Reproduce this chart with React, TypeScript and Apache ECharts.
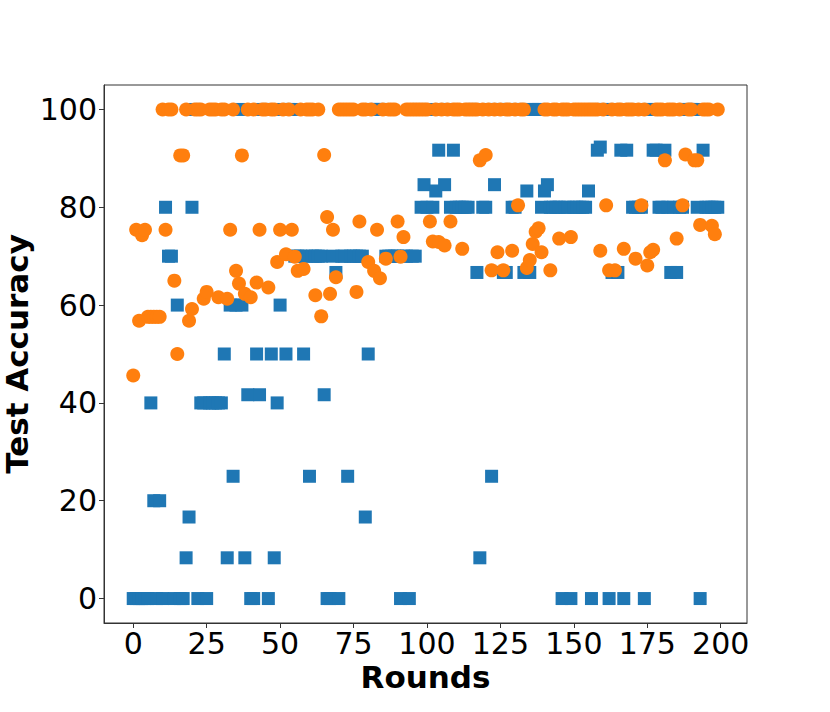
import React, { useEffect, useRef } from "react";
import * as echarts from "echarts";

const xTicks = [0, 25, 50, 75, 100, 125, 150, 175, 200];
const yTicks = [0, 20, 40, 60, 80, 100];

// Test accuracy per round (index = round 0..199)
const blueAcc = [
  0, 0, 0, 0, 0, 0, 40, 20, 0, 20,
  0, 80, 70, 70, 0, 60, 0, 0, 8.33, 16.67,
  80, 100, 0, 40, 40, 0, 40, 40, 40, 40,
  40, 50, 8.33, 60, 25, 60, 100, 60, 8.33, 41.67,
  0, 0, 50, 41.67, 100, 100, 0, 50, 8.33, 40,
  60, 100, 50, 100, 100, 70, 70, 70, 50, 70,
  25, 70, 70, 70, 70, 41.67, 0, 0, 70, 66.67,
  0, 70, 70, 25, 70, 70, 70, 70, 70, 16.67,
  50, 100, 100, 100, 100, 100, 70, 70, 70, 70,
  70, 0, 70, 70, 0, 70, 70, 100, 80, 84.62,
  80, 100, 80, 83.33, 91.67, 100, 84.62, 100, 80, 91.67,
  80, 80, 80, 80, 80, 100, 100, 66.67, 8.33, 80,
  80, 100, 25, 84.62, 100, 100, 66.67, 66.67, 100, 80,
  80, 100, 100, 66.67, 83.33, 66.67, 100, 100, 100, 80,
  83.33, 84.62, 80, 80, 80, 80, 0, 80, 80, 0,
  80, 80, 80, 80, 80, 83.33, 0, 100, 91.67, 92.31,
  100, 100, 0, 66.67, 100, 66.67, 91.67, 0, 91.67, 100,
  80, 80, 80, 80, 0, 100, 100, 91.67, 91.67, 80,
  80, 91.67, 80, 66.67, 80, 66.67, 80, 80, 100, 100,
  100, 100, 80, 0, 91.67, 80, 80, 80, 80, 80,
];

const orangeAcc = [
  45.6, 75.4, 56.8, 74.3, 75.4, 57.6, 57.6, 57.6, 57.6, 57.6,
  100, 75.4, 100, 100, 65, 50, 90.6, 90.6, 100, 56.8,
  59.2, 100, 100, 100, 61.3, 62.7, 100, 100, 100, 61.6,
  100, 100, 61.3, 75.4, 100, 67, 64.4, 90.6, 62.3, 100,
  61.6, 100, 64.6, 75.4, 100, 100, 63.6, 100, 100, 68.8,
  75.4, 100, 70.4, 100, 75.4, 69.9, 67, 100, 67.4, 100,
  100, 100, 62, 100, 57.7, 90.7, 78, 62.3, 75.4, 65.7,
  100, 100, 100, 100, 100, 100, 62.7, 77.1, 100, 100,
  68.8, 100, 67, 75.4, 65.5, 100, 69.5, 100, 100, 100,
  77.1, 69.9, 73.9, 100, 100, 100, 100, 100, 100, 100,
  100, 77.1, 73, 100, 72.9, 100, 72.2, 100, 77.1, 100,
  100, 100, 71.5, 100, 100, 100, 100, 100, 89.6, 100,
  90.7, 100, 67.1, 100, 70.8, 100, 67.1, 100, 100, 71.1,
  100, 80.4, 100, 100, 67.6, 69.2, 72.5, 75, 75.7, 70.8,
  100, 100, 67.1, 100, 100, 73.6, 100, 100, 100, 73.9,
  100, 100, 100, 100, 100, 100, 100, 100, 100, 71.1,
  100, 80.4, 67.1, 100, 67.1, 100, 100, 71.5, 100, 100,
  100, 69.5, 100, 80.4, 100, 68.1, 70.8, 71.3, 100, 100,
  100, 89.6, 100, 100, 100, 73.6, 100, 80.4, 90.8, 100,
  100, 89.6, 89.6, 76.4, 100, 100, 100, 76.2, 74.5, 100,
];

const BLUE = "#1f77b4";
const ORANGE = "#ff7f0e";
const FONT = "DejaVu Sans";

export default function App() {
  const ref = useRef<HTMLDivElement>(null);

  useEffect(() => {
    if (!ref.current) return;
    const chart = echarts.init(ref.current, null, { renderer: "svg" });
    const blueData = blueAcc.map((v, i) => [i, v]);
    const orangeData = orangeAcc.map((v, i) => [i, v]);
    chart.setOption({
      animation: false,
      backgroundColor: "#ffffff",
      grid: {
        left: 104,
        right: 83,
        top: 85,
        bottom: 89,
        containLabel: false,
        outerBoundsMode: "none",
        show: true,
        borderColor: "#333",
        borderWidth: 1,
        backgroundColor: "transparent",
      },
      xAxis: {
        type: "value",
        min: -9.95,
        max: 208.95,
        name: "Rounds",
        nameLocation: "middle",
        nameGap: 38,
        nameMoveOverlap: false,
        nameTextStyle: {
          fontFamily: FONT,
          fontWeight: "bold",
          fontSize: 31,
          color: "#000",
        },
        axisLine: { show: true, onZero: false, lineStyle: { color: "#333", width: 1 } },
        axisTick: {
          show: true,
          inside: false,
          length: 5,
          lineStyle: { color: "#333" },
          customValues: xTicks,
        },
        axisLabel: {
          fontFamily: FONT,
          fontSize: 30,
          color: "#000",
          margin: 5,
          customValues: xTicks,
        },
        splitLine: { show: false },
      },
      yAxis: {
        type: "value",
        min: -5,
        max: 105,
        name: "Test Accuracy",
        nameLocation: "middle",
        nameGap: 72,
        nameMoveOverlap: false,
        nameTextStyle: {
          fontFamily: FONT,
          fontWeight: "bold",
          fontSize: 31,
          color: "#000",
        },
        axisLine: { show: true, onZero: false, lineStyle: { color: "#333", width: 1 } },
        axisTick: {
          show: true,
          inside: false,
          length: 5,
          lineStyle: { color: "#333" },
          customValues: yTicks,
        },
        axisLabel: {
          fontFamily: FONT,
          fontSize: 30,
          color: "#000",
          margin: 7,
          customValues: yTicks,
        },
        splitLine: { show: false },
      },
      series: [
        {
          type: "scatter",
          data: blueData,
          symbol: "rect",
          symbolSize: 13,
          itemStyle: { color: BLUE, opacity: 1 },
          z: 2,
        },
        {
          type: "scatter",
          data: orangeData,
          symbol: "circle",
          symbolSize: 14,
          itemStyle: { color: ORANGE, opacity: 1 },
          z: 3,
        },
      ],
    });
    return () => chart.dispose();
  }, []);

  return (
    <div
      ref={ref}
      style={{ position: "fixed", left: 0, top: 0, width: 830, height: 712, background: "#fff" }}
    />
  );
}
